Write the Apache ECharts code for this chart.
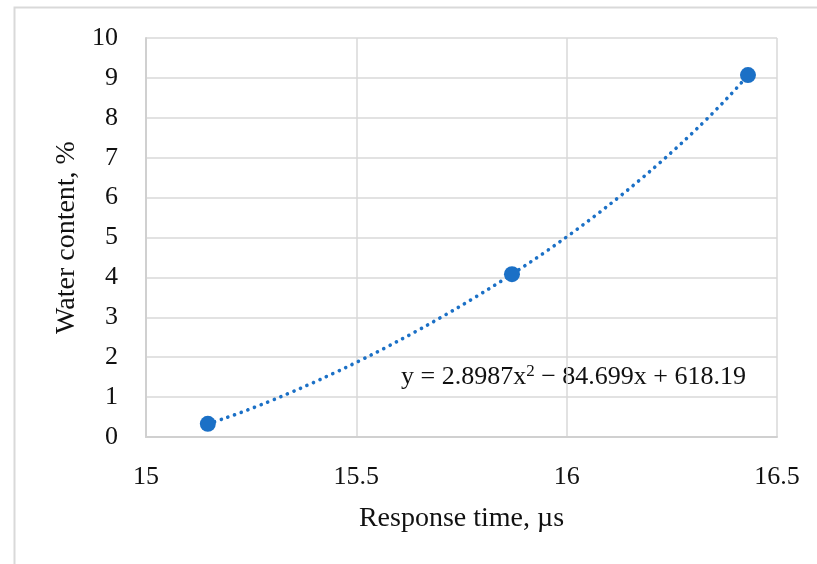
<!DOCTYPE html>
<html><head><meta charset="utf-8">
<script src="https://cdn.jsdelivr.net/npm/echarts@6/dist/echarts.min.js"></script>
<style>html,body{margin:0;padding:0;background:#fff}#c{width:817px;height:564px}</style>
</head><body><div id="c"></div>
<script>
const responseTime = [15.147, 15.870, 16.431];
const waterContent = [0.33, 4.08, 9.07];
const xTicks = [15, 15.5, 16, 16.5];
const yTicks = [0,1,2,3,4,5,6,7,8,9,10];
const equationText = 'y = 2.8987x{sup|2} − 84.699x + 618.19';
const xName = 'Response time, µs';
const yName = 'Water content, %';

const FONT = 'Liberation Serif';
const blue = '#1b70c6';
const chart = echarts.init(document.getElementById('c'), null, {renderer:'canvas'});
chart.setOption({
  animation:false,
  backgroundColor:'#fff',
  grid:{left:146, top:38, right:40, bottom:127},
  xAxis:{type:'value', min:xTicks[0], max:xTicks[xTicks.length-1], interval:0.5,
    name:xName, nameLocation:'middle', nameGap:68,
    nameTextStyle:{fontFamily:FONT, fontSize:28, color:'#111'},
    axisLine:{show:true, lineStyle:{color:'#d0d0d0', width:2}},
    axisTick:{show:false},
    axisLabel:{fontFamily:FONT, fontSize:26, color:'#111', margin:27},
    splitLine:{show:true, lineStyle:{color:'#d9d9d9', width:1.5}}},
  yAxis:{type:'value', min:yTicks[0], max:yTicks[yTicks.length-1], interval:1,
    name:yName, nameLocation:'middle', nameGap:57, nameRotate:90,
    nameTextStyle:{fontFamily:FONT, fontSize:28, color:'#111'},
    axisLine:{show:true, lineStyle:{color:'#d0d0d0', width:2}},
    axisTick:{show:false},
    axisLabel:{fontFamily:FONT, fontSize:26, color:'#111', margin:28},
    splitLine:{show:true, lineStyle:{color:'#d9d9d9', width:1.5}}},
  series:[
    {type:'line', data:responseTime.map((x,i)=>[x, waterContent[i]]), smooth:0.6,
     symbol:'none', lineStyle:{color:blue, width:3.6, type:[0.1,7], cap:'round'}, z:2},
    {type:'scatter', data:responseTime.map((x,i)=>[x, waterContent[i]]),
     symbol:'circle', symbolSize:16, itemStyle:{color:blue, opacity:1}, z:3}
  ],
  graphic:[
    {type:'rect', shape:{x:14.5, y:7.5, width:900, height:700}, style:{fill:'none', stroke:'#d9d9d9', lineWidth:2}, silent:true, z:-1},
    {type:'text', left:401, top:363, style:{text:equationText, fontFamily:FONT, fontSize:26, fill:'#111',
      rich:{sup:{fontFamily:FONT, fontSize:17, verticalAlign:'top', padding:[0,0,12,0], fill:'#111'}}}}
  ]
});
</script></body></html>
